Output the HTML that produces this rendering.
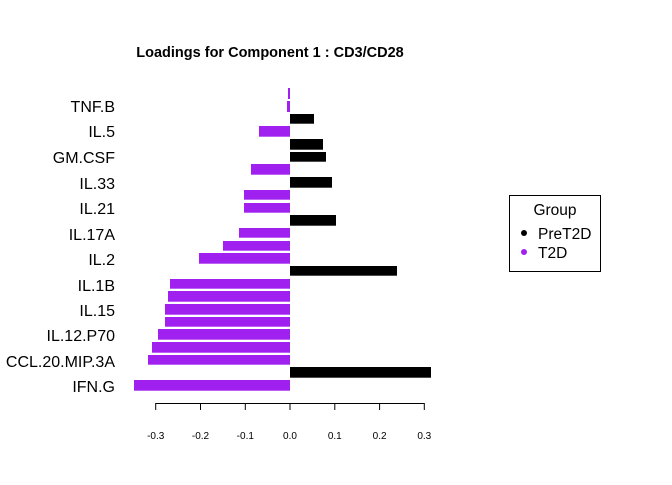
<!DOCTYPE html>
<html><head><style>body{margin:0;background:#fff}</style></head><body>
<svg width="672" height="480" xmlns="http://www.w3.org/2000/svg" font-family="Liberation Sans, Arial, sans-serif">
<rect width="672" height="480" fill="#fff"/>
<text x="270" y="57" font-size="14.5" font-weight="bold" text-anchor="middle">Loadings for Component 1 : CD3/CD28</text>
<g fill="#A020F0">
<rect x="288" y="88" width="2" height="11"/>
<rect x="287" y="101" width="3" height="11"/>
<rect x="259" y="126" width="31" height="10.7"/>
<rect x="251" y="164" width="39" height="10.7"/>
<rect x="244" y="190" width="46" height="9.7"/>
<rect x="244" y="203" width="46" height="9.7"/>
<rect x="239" y="228" width="51" height="9.7"/>
<rect x="223" y="241" width="67" height="9.7"/>
<rect x="199" y="253" width="91" height="10.7"/>
<rect x="170" y="279" width="120" height="9.7"/>
<rect x="168" y="291" width="122" height="10.7"/>
<rect x="165" y="304" width="125" height="10.7"/>
<rect x="165" y="317" width="125" height="9.7"/>
<rect x="158" y="329" width="132" height="10.7"/>
<rect x="152" y="342" width="138" height="10.7"/>
<rect x="148" y="355" width="142" height="9.7"/>
<rect x="134" y="380" width="156" height="10.7"/>
</g>
<g fill="#000">
<rect x="290" y="114" width="24" height="9.7"/>
<rect x="290" y="139" width="33" height="10.7"/>
<rect x="290" y="152" width="36" height="9.7"/>
<rect x="290" y="177" width="42" height="10.7"/>
<rect x="290" y="215" width="46" height="10.7"/>
<rect x="290" y="266" width="107" height="9.7"/>
<rect x="290" y="367" width="141" height="10.7"/>
</g>
<g font-size="16" text-anchor="end">
<text x="115" y="112">TNF.B</text>
<text x="115" y="137">IL.5</text>
<text x="115" y="163">GM.CSF</text>
<text x="115" y="189">IL.33</text>
<text x="115" y="214">IL.21</text>
<text x="115" y="240">IL.17A</text>
<text x="115" y="265">IL.2</text>
<text x="115" y="291">IL.1B</text>
<text x="115" y="316">IL.15</text>
<text x="115" y="341">IL.12.P70</text>
<text x="115" y="367">CCL.20.MIP.3A</text>
<text x="115" y="392">IFN.G</text>
</g>
<g stroke="#000" stroke-width="1" fill="none">
<line x1="155.7" y1="403.5" x2="424.3" y2="403.5"/>
<line x1="155.7" y1="403" x2="155.7" y2="410"/>
<line x1="200.5" y1="403" x2="200.5" y2="410"/>
<line x1="245.3" y1="403" x2="245.3" y2="410"/>
<line x1="290" y1="403" x2="290" y2="410"/>
<line x1="334.8" y1="403" x2="334.8" y2="410"/>
<line x1="379.6" y1="403" x2="379.6" y2="410"/>
<line x1="424.3" y1="403" x2="424.3" y2="410"/>
</g>
<g font-size="10" text-anchor="middle">
<text x="155.7" y="439">-0.3</text>
<text x="200.5" y="439">-0.2</text>
<text x="245.3" y="439">-0.1</text>
<text x="290" y="439">0.0</text>
<text x="334.8" y="439">0.1</text>
<text x="379.6" y="439">0.2</text>
<text x="424.3" y="439">0.3</text>
</g>
<rect x="509.5" y="195.5" width="91" height="76" fill="none" stroke="#000"/>
<text x="555" y="215" font-size="15.5" text-anchor="middle">Group</text>
<circle cx="524" cy="233" r="3" fill="#000"/>
<circle cx="524" cy="252" r="3" fill="#A020F0"/>
<text x="538" y="239" font-size="15.5">PreT2D</text>
<text x="538" y="258" font-size="15.5">T2D</text>
</svg>
</body></html>
